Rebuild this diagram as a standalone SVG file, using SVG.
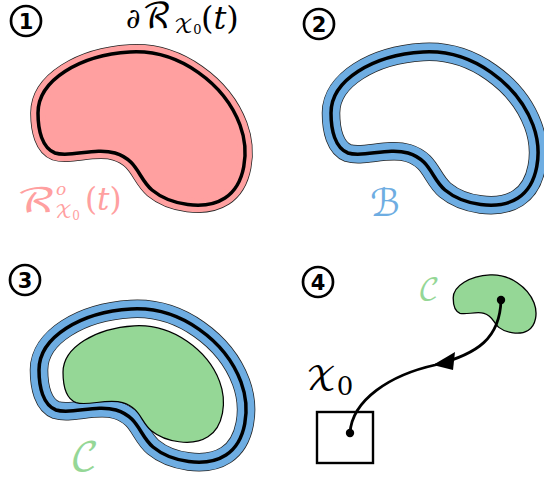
<svg xmlns="http://www.w3.org/2000/svg" xmlns:xlink="http://www.w3.org/1999/xlink" width="544" height="485" viewBox="0 0 544 485">
<style>
.num{font-family:"DejaVu Sans",sans-serif;font-weight:bold;font-size:21px;text-anchor:middle}
.ring{fill:none;stroke:#000;stroke-width:2.7}
.m{font-family:"DejaVu Serif","DejaVu Sans",serif}
.mt{font-family:"DejaVu Math TeX Gyre","DejaVu Serif","DejaVu Sans",serif}
.it{font-style:italic}
.pink{fill:#FFA0A0}
.blue{fill:#6EADE2}
.green{fill:#95D796}
</style>
<defs>
<path id="k" d="M 38,113 C 38,80 80,55 130,52 C 180,49 225,85 240,125 C 250,152 245,185 225,198 C 205,211 170,205 152,190 C 138,178 138,160 115,153 C 95,147 70,158 55,153 C 42,148 38,130 38,113 Z"/>
</defs>

<g id="panel1">
  <g id="num1"><circle class="ring" cx="26" cy="21" r="15"/><text class="num" x="26" y="28.5">1</text></g>
  <g id="region1">
    <use xlink:href="#k" fill="#FFA0A0" stroke="#222" stroke-width="15.5"/>
    <use xlink:href="#k" fill="#FFA0A0" stroke="#FFA0A0" stroke-width="14"/>
    <use xlink:href="#k" fill="none" stroke="#000" stroke-width="3.5"/>
  </g>
  <text class="m" y="28"><tspan x="126" font-size="28">∂</tspan><tspan class="mt" x="142" font-size="35">ℛ</tspan><tspan class="mt" x="174" dy="5" font-size="20">𝒳</tspan><tspan dy="1" font-size="13">0</tspan><tspan x="201" dy="-5" font-size="32">(</tspan><tspan class="it" font-size="32">t</tspan><tspan font-size="32">)</tspan></text>

  <text class="mt pink" font-size="33" transform="translate(16,212) scale(1.45,1)">ℛ</text>
  <text class="m it pink" font-size="17" x="56" y="195">o</text>
  <text class="mt pink" x="55" y="218"><tspan font-size="18">𝒳</tspan><tspan class="m" font-size="12" dy="2">0</tspan></text>
  <text class="m pink" font-size="31" x="85" y="210">(<tspan class="it">t</tspan>)</text>
</g>

<g id="panel2">
  <g id="num2"><circle class="ring" cx="319" cy="24" r="15"/><text class="num" x="319" y="31.5">2</text></g>
  <g id="band2" transform="translate(293,0)">
    <use xlink:href="#k" fill="#fff" stroke="#222" stroke-width="18.5"/>
    <use xlink:href="#k" fill="none" stroke="#6EADE2" stroke-width="17"/>
    <use xlink:href="#k" fill="none" stroke="#000" stroke-width="3.5"/>
  </g>
  <text class="m blue" font-size="38" x="370" y="216">ℬ</text>
</g>

<g id="panel3">
  <g id="num3"><circle class="ring" cx="25" cy="280" r="15"/><text class="num" x="25" y="287.5">3</text></g>
  <g id="band3" transform="translate(1,257)">
    <use xlink:href="#k" fill="#fff" stroke="#222" stroke-width="18.5"/>
    <use xlink:href="#k" fill="none" stroke="#6EADE2" stroke-width="17"/>
    <use xlink:href="#k" fill="none" stroke="#000" stroke-width="3.5"/>
    <use xlink:href="#k" transform="translate(143,127) scale(0.775,0.76) translate(-142.5,-128.5)" fill="#95D796" stroke="#000" stroke-width="1.6"/>
  </g>
  <text class="mt green" font-size="40" x="70" y="471">𝒞</text>
</g>

<g id="panel4">
  <g id="num4"><circle class="ring" cx="318" cy="282" r="15"/><text class="num" x="318" y="289.5">4</text></g>
  <g id="setC">
    <use xlink:href="#k" transform="translate(495,304) scale(0.4,0.38) translate(-142.5,-128.5)" fill="#95D796" stroke="#000" stroke-width="3.3"/>
    <text class="mt green" font-size="30" x="418" y="299">𝒞</text>
  </g>
  <g id="X0">
    <rect x="317" y="412" width="56" height="51" fill="none" stroke="#000" stroke-width="2.4"/>
    <text class="mt" x="306" y="390"><tspan font-size="32">𝒳</tspan><tspan class="m" font-size="26" dy="5">0</tspan></text>
  </g>
</g>

<g id="connectors">
  <path d="M 501,300 C 500,338 478,354 435,365 C 390,375 352,400 350,433" fill="none" stroke="#000" stroke-width="2.8"/>
  <polygon points="433,365 455,352 453,370" fill="#000"/>
  <circle cx="501" cy="300" r="4.2" fill="#000"/>
  <circle cx="350" cy="433" r="4.2" fill="#000"/>
</g>
</svg>
